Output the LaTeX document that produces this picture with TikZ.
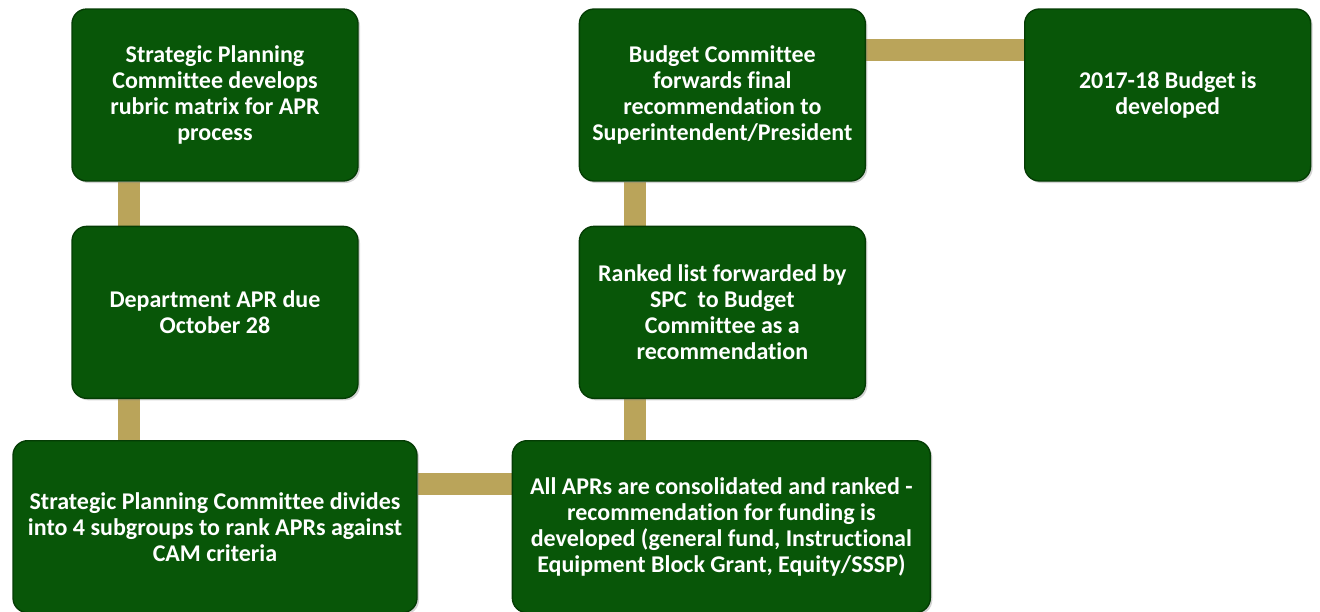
\documentclass[tikz,border=0pt]{standalone}
\usepackage{fontspec}
\setmainfont{Carlito}[Ligatures=NoCommon]
\usepackage{tikz}
\usetikzlibrary{positioning, shadows, backgrounds}
\usepackage{xcolor}

\definecolor{boxgreen}{RGB}{8,86,8}
\definecolor{boxedge}{RGB}{4,60,4}
\definecolor{linkgold}{RGB}{186,164,90}

\tikzset{
  stepbox/.style={rectangle, rounded corners=11pt, fill=boxgreen, draw=boxedge, line width=1pt,
    text=white, align=center, font=\fontsize{18}{19.5}\selectfont\bfseries,
    minimum width=214.5pt, minimum height=129pt, inner sep=2pt,
    drop shadow={opacity=0.35, shadow xshift=1.5pt, shadow yshift=-1.5pt}},
  widebox/.style={stepbox, minimum width=303pt},
  link/.style={draw=linkgold, line width=16.5pt}
}

\begin{document}
\begin{tikzpicture}[x=0.75pt, y=-0.75pt]
    \useasboundingbox (0,0) rectangle (1320,611);

    \node[stepbox] (rubric) at (215,95) {Strategic Planning\\Committee develops\\rubric matrix for APR\\process};
    \node[stepbox] (apr) [below=33pt of rubric] {Department APR due\\October 28};
    \node[widebox] (subgroups) [below=30.75pt of apr] {Strategic Planning Committee divides\\into 4 subgroups to rank APRs against\\CAM criteria};
    \node[widebox, minimum width=313.5pt] (ranked) [right=70.5pt of subgroups] {All APRs are consolidated and ranked -\\recommendation for funding is\\developed (general fund, Instructional\\Equipment Block Grant, Equity/SSSP)};
    \node[stepbox] (forward) [above=30.75pt of ranked, xshift=0.75pt] {Ranked list forwarded by\\SPC\ \ to Budget\\Committee as a\\recommendation};
    \node[stepbox] (final) [above=33pt of forward] {Budget Committee\\forwards final\\recommendation to\\Superintendent/President};
    \node[stepbox] (budget) [right=118.5pt of final] {2017-18 Budget is\\developed};

    \begin{scope}[on background layer]
    \path[link]
    ([xshift=43.5pt]rubric.south west) -- ([xshift=43.5pt]rubric.south west |- apr.north)
    ([xshift=43.5pt]apr.south west) -- ([xshift=43.5pt]apr.south west |- subgroups.north)
    ([yshift=32pt]subgroups.east) -- ([yshift=32pt]subgroups.east -| ranked.west)
    ([xshift=42pt]forward.south west) -- ([xshift=42pt]forward.south west |- ranked.north)
    ([xshift=42pt]final.south west) -- ([xshift=42pt]final.south west |- forward.north)
    ([yshift=-31.5pt]final.north east) -- ([yshift=-31.5pt]final.north east -| budget.west);
    \end{scope}
\end{tikzpicture}
\end{document}
